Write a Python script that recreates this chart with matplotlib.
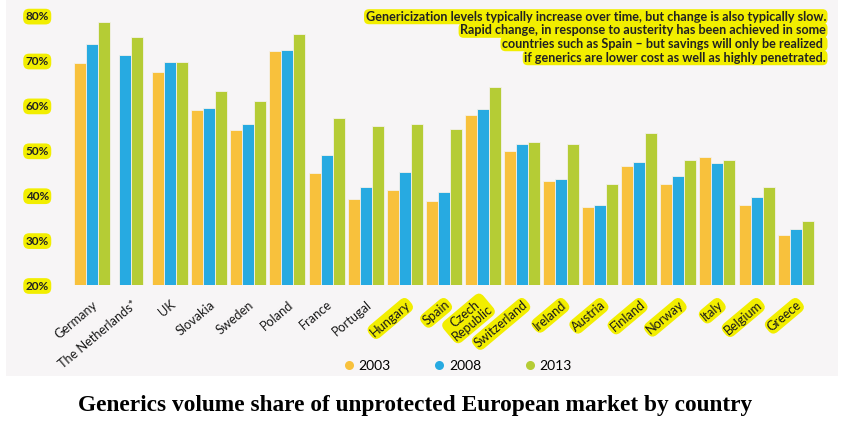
import numpy as np
import matplotlib
matplotlib.use("Agg")
import matplotlib.pyplot as plt
from matplotlib.patches import Rectangle
from matplotlib.lines import Line2D

# ---------------- data ----------------
countries = ["Germany", "The Netherlands*", "UK", "Slovakia", "Sweden", "Poland",
             "France", "Portugal", "Hungary", "Spain", "Czech\nRepublic",
             "Switzerland", "Ireland", "Austria", "Finland", "Norway", "Italy",
             "Belgium", "Greece"]
highlighted = [False] * 8 + [True] * 11
years = ["2003", "2008", "2013"]
share_2003 = [69.5, np.nan, 67.5, 58.9, 54.5, 72.1, 45.0, 39.2, 41.2, 38.7, 57.8,
              49.9, 43.1, 37.3, 46.6, 42.4, 48.6, 37.9, 31.1]
share_2008 = [73.6, 71.3, 69.6, 59.5, 55.9, 72.3, 49.0, 41.9, 45.2, 40.8, 59.2,
              51.5, 43.6, 37.9, 47.5, 44.2, 47.2, 39.5, 32.5]
share_2013 = [78.5, 75.3, 69.6, 63.3, 61.0, 75.9, 57.2, 55.5, 55.9, 54.8, 64.1,
              51.8, 51.5, 42.4, 53.8, 47.9, 47.9, 41.8, 34.3]
yticks = [20, 30, 40, 50, 60, 70, 80]
ytick_labels = ["20%", "30%", "40%", "50%", "60%", "70%", "80%"]
note_lines = [
    "Genericization levels typically increase over time, but change is also typically slow.",
    "Rapid change, in response to austerity has been achieved in some",
    "countries such as Spain \u2013 but savings will only be realized ",
    "if generics are lower cost as well as highly penetrated.",
]
title = "Generics volume share of unprotected European market by country"

colors = ["#f8c13c", "#27aae1", "#b5cc35"]
yellow = "#f2ee00"
bg = "#f7f5f6"
txt = "#222222"

W, H = 842, 429
fig = plt.figure(figsize=(W / 100, H / 100), dpi=100)
fig.patch.set_facecolor("white")
fig.patches.append(Rectangle((6 / W, (H - 376) / H), 832 / W, 376 / H,
                             transform=fig.transFigure, fc=bg, ec="none", zorder=-10))

ax_l, ax_r, ax_t, ax_b = 60, 835, 5, 285
ax = fig.add_axes([ax_l / W, (H - ax_b) / H, (ax_r - ax_l) / W, (ax_b - ax_t) / H])
ax.set_zorder(1)
ax.set_facecolor("none")
pitch = 39.09
c0 = 92
ax.set_xlim((ax_l - c0) / pitch, (ax_r - c0) / pitch)
ppu = 4.49
ax.set_ylim(20, 20 + (ax_b - ax_t) / ppu)
for s in ax.spines.values():
    s.set_visible(False)

w = 0.307
series = [share_2003, share_2008, share_2013]
for i in range(len(countries)):
    avail = [k for k in range(3) if not np.isnan(series[k][i])]
    n = len(avail)
    for j, k in enumerate(avail):
        off = (j - (n - 1) / 2) * w
        ax.bar(i + off, series[k][i], width=w, color=colors[k],
               edgecolor="#f4f1ea", linewidth=0.6, zorder=2)

# y ticks
ax.set_yticks(yticks)
ax.set_yticklabels(ytick_labels)
ax.tick_params(axis="y", length=0, pad=8)
for t in ax.get_yticklabels():
    t.set_fontfamily("Lato")
    t.set_fontweight("bold")
    t.set_fontsize(8.5)
    t.set_color(txt)
    t.set_bbox(dict(boxstyle="round,pad=0.2,rounding_size=0.5", fc=yellow, ec="none"))

# x labels
ax.set_xticks([])
ylab = 20 - (303 - ax_b) / ppu
for i, name in enumerate(countries):
    kw = {}
    if highlighted[i]:
        kw["bbox"] = dict(boxstyle="round,pad=0.15,rounding_size=0.5", fc=yellow, ec="none")
    ax.text(i + 4 / pitch, ylab, name, rotation=40, rotation_mode="anchor",
            ha="right", va="center", multialignment="center",
            fontsize=9.2, family="Lato", color="#1a1a1a", clip_on=False,
            linespacing=0.95, **kw)

# note
for k, line in enumerate(note_lines):
    yc = [16.7, 30.3, 43.7, 57.7][k]
    fig.text(826 / W, 1 - yc / H, line, ha="right", va="center",
             fontsize=9.1, family="Lato", fontweight="bold", color=txt,
             bbox=dict(boxstyle="round,pad=0.12,rounding_size=0.4", fc=yellow, ec="none"))

# legend
handles = [Line2D([], [], ls="none", marker="o", markersize=6.5,
                  markerfacecolor=c, markeredgecolor="none") for c in colors]
fig.legend(handles, years, loc="center", bbox_to_anchor=(457 / W, 1 - 366 / H),
           ncol=3, frameon=False, handletextpad=0.2, columnspacing=3.0,
           handlelength=1.0, prop=dict(family="Lato", size=10))

# title
fig.text(415 / W, 1 - 406 / H, title, ha="center", va="center",
         family="Liberation Serif", fontweight="bold", fontsize=16.8, color="black")

fig.savefig("out.png", dpi=100, facecolor=fig.get_facecolor())
